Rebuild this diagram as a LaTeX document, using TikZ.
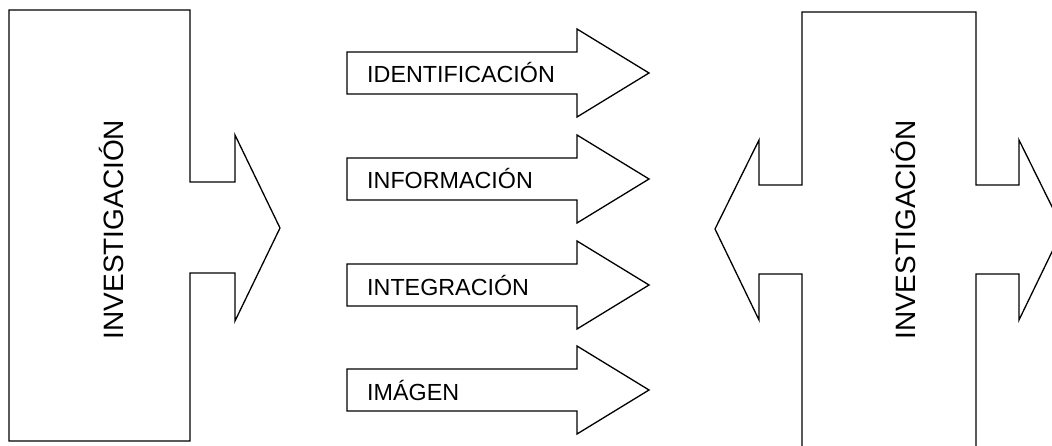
\documentclass[tikz,border=0pt]{standalone}
\usepackage{fontspec}
\setmainfont{Liberation Sans}
\begin{document}
\begin{tikzpicture}[x=1pt,y=-1pt,
  outline/.style={draw=black,line width=1.3pt,line join=miter},
  arrowlabel/.style={anchor=base west,inner sep=0pt,font=\fontsize{23.3}{26}\selectfont},
  vlabel/.style={anchor=base,rotate=90,inner sep=0pt,font=\fontsize{28}{32}\selectfont}]
\useasboundingbox (0,0) rectangle (1052,446);
\fill[white] (0,0) rectangle (1052,446);
\clip (0,0) rectangle (1052,446);
% left shape
\draw[outline] (9,10) -- (190,10) -- (190,182) -- (235,182) -- (235,135) -- (280,228)
  -- (235,321) -- (235,273) -- (190,273) -- (190,441) -- (9,441) -- cycle;
\node[vlabel] (leftlabel) at (123,229.5) {INVESTIGACIÓN};
% right shape
\draw[outline] (802,12) -- (976,12) -- (976,185) -- (1019,185) -- (1019,140) -- (1063,229)
  -- (1019,320) -- (1019,274) -- (976,274) -- (976,470) -- (802,470) -- (802,274)
  -- (759,274) -- (759,320) -- (715,229) -- (759,140) -- (759,185) -- (802,185) -- cycle;
\node[vlabel] (rightlabel) at (915,230) {INVESTIGACIÓN};
% arrows
\foreach \c/\t/\n in {73/IDENTIFICACIÓN/a1,179/INFORMACIÓN/a2,285/INTEGRACIÓN/a3,390/IMÁGEN/a4}{
  \draw[outline] (347,\c-21) -- (577,\c-21) -- (577,\c-44) -- (649,\c) -- (577,\c+44)
    -- (577,\c+21) -- (347,\c+21) -- cycle;
  \node[arrowlabel] (\n) at (367,\c+10) {\t};
}
\end{tikzpicture}
\end{document}
